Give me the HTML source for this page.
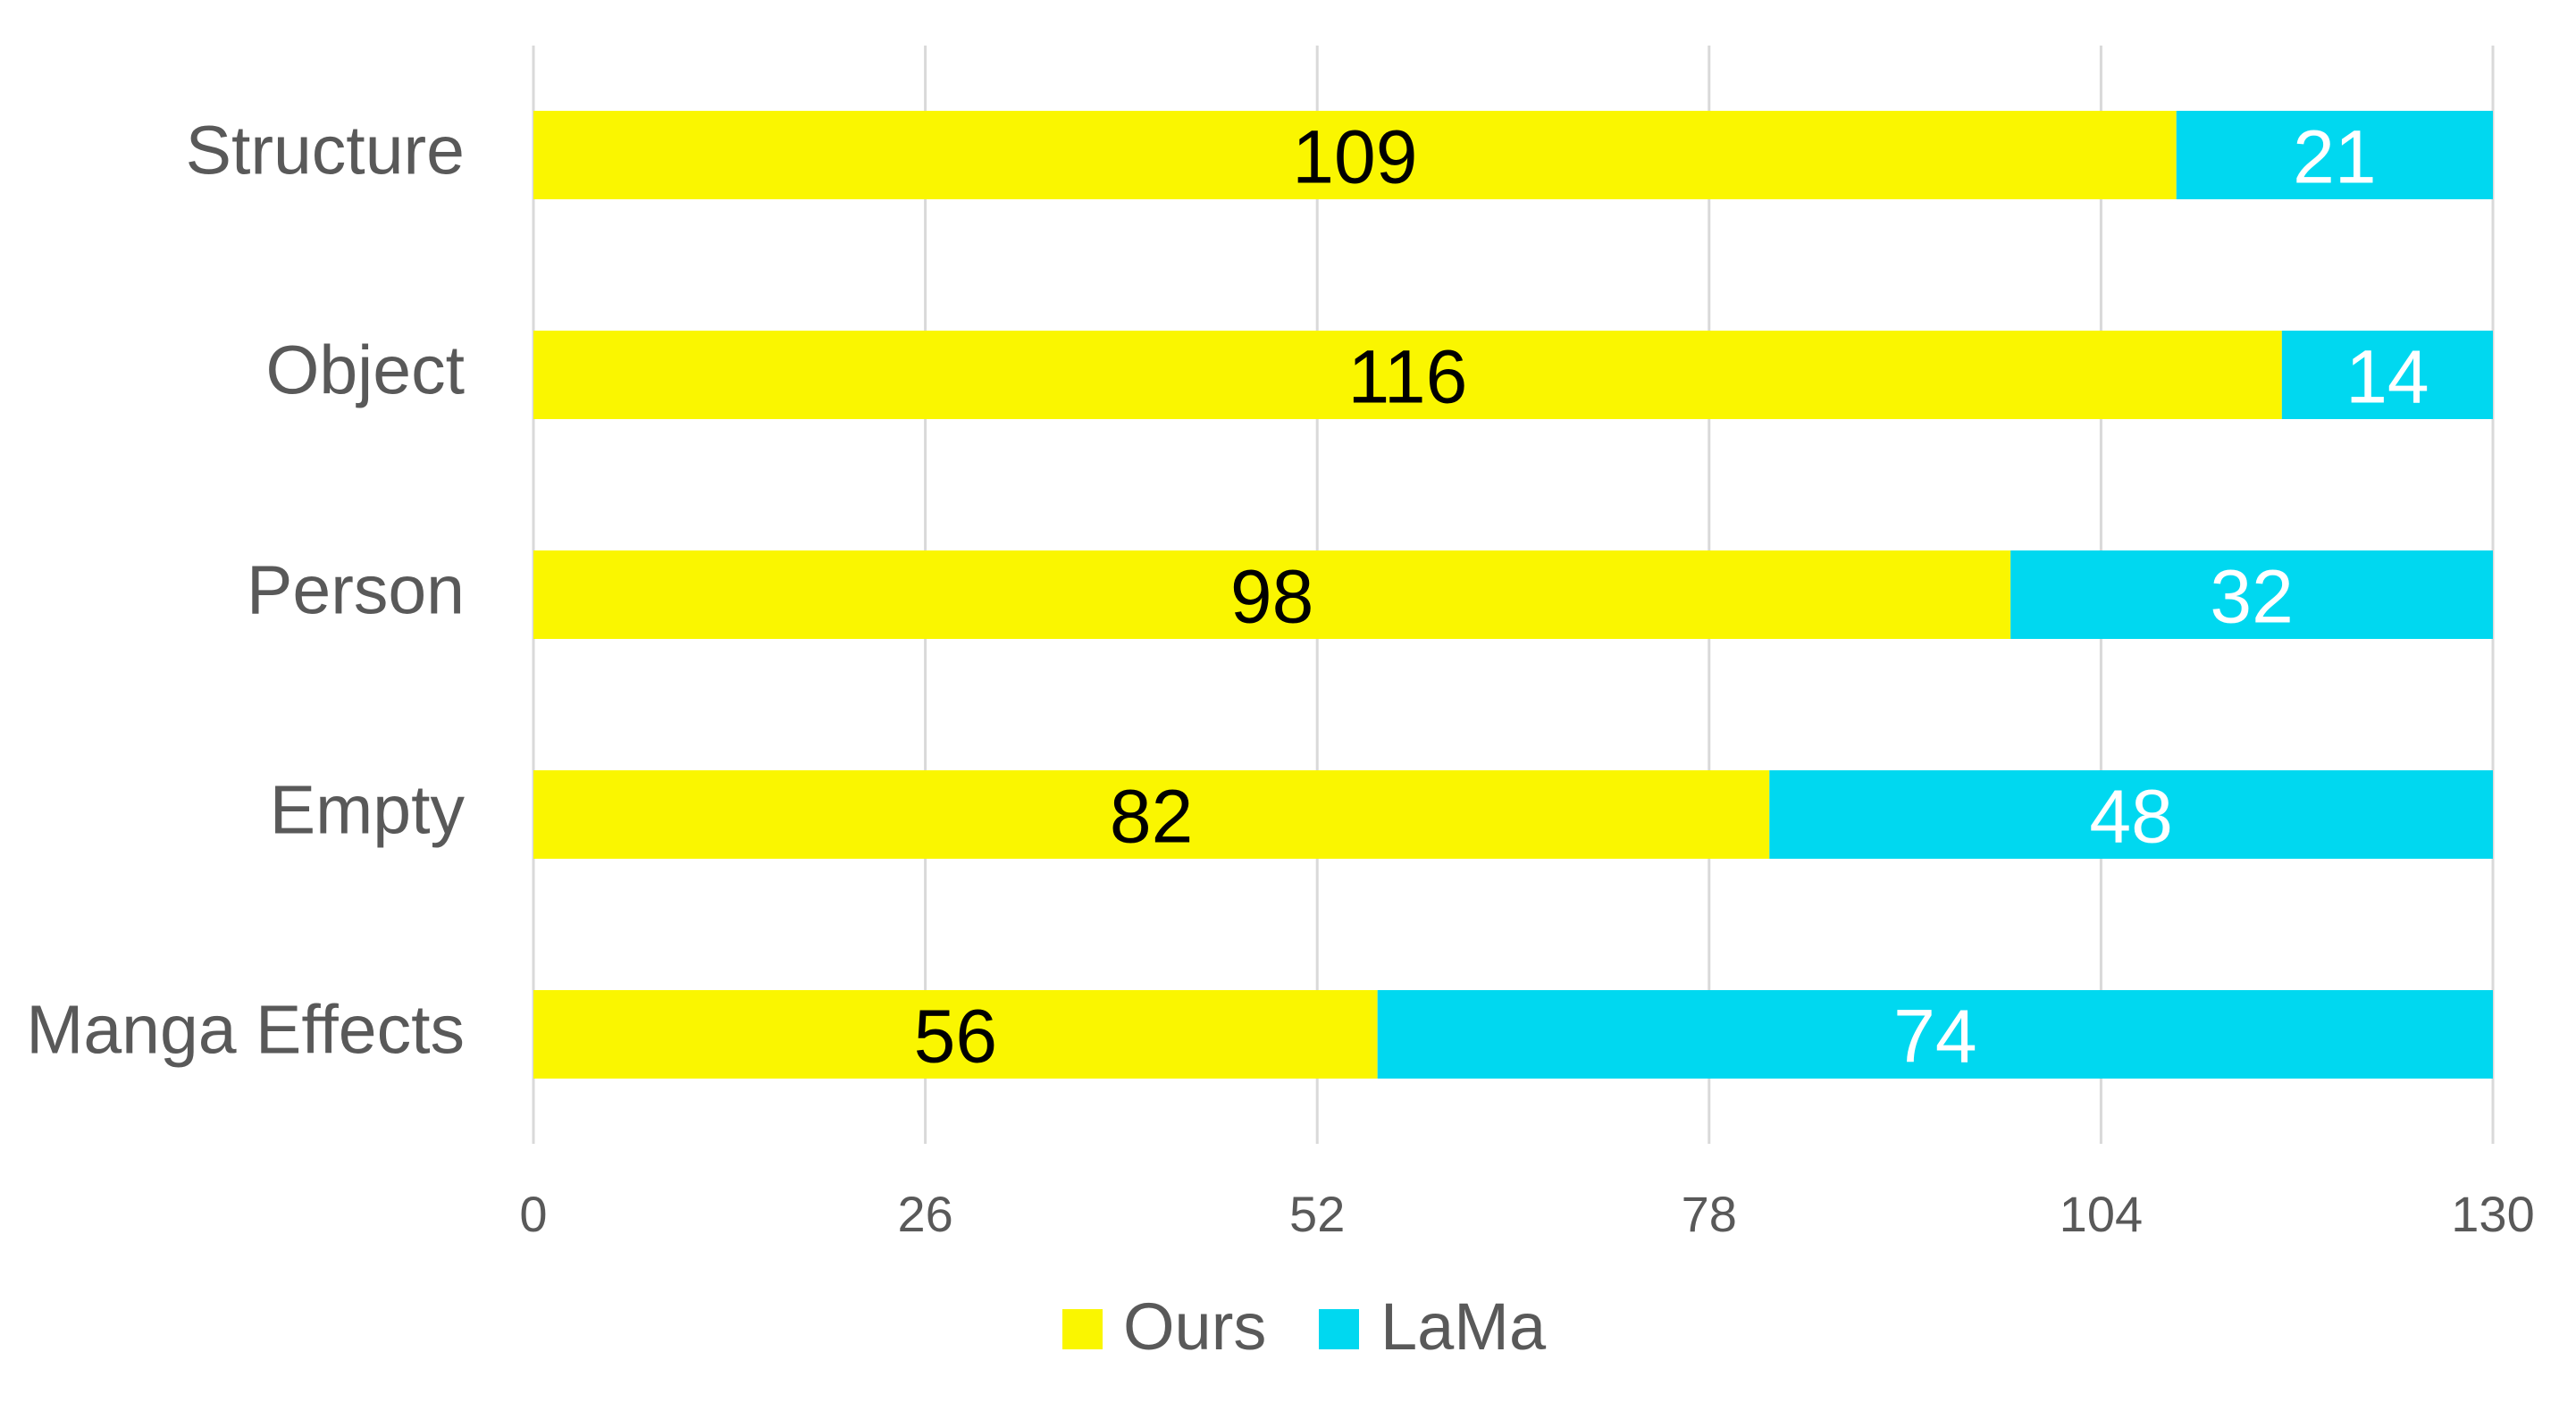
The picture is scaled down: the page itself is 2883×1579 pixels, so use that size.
<!DOCTYPE html>
<html><head><meta charset="utf-8"><style>
html,body{margin:0;padding:0;background:#fff;}
svg{display:block;font-family:"Liberation Sans",sans-serif;}
</style></head><body>
<svg id="chart" width="2883" height="1579" viewBox="0 0 2883 1579">
<g id="grid"></g>
<g id="bars"></g>
<g id="ylabels"></g>
<g id="xlabels"></g>
<g>
  <rect x="1189" y="1465" width="45" height="45" fill="#FAF600"/>
  <text x="1257" y="1510" font-size="74" fill="#595959">Ours</text>
  <rect x="1476" y="1465" width="45" height="45" fill="#00D8F0"/>
  <text x="1545" y="1510" font-size="74" fill="#595959">LaMa</text>
</g>
</svg>
<script>
const categories = ["Structure","Object","Person","Empty","Manga Effects"];
const oursValues = [109,116,98,82,56];
const lamaValues = [21,14,32,48,74];
const tickValues = [0,26,52,78,104,130];
const NS="http://www.w3.org/2000/svg";
const X0=597, X1=2790, XMAX=130;
const xScale=v=>X0+(X1-X0)*v/XMAX;
const BAND0=124, BANDSTEP=246, BARH=99;
const yScale=i=>BAND0+i*BANDSTEP;
function mk(tag,attrs,parent){const e=document.createElementNS(NS,tag);for(const k in attrs)e.setAttribute(k,attrs[k]);parent.appendChild(e);return e;}
const grid=document.getElementById('grid'),bars=document.getElementById('bars'),yl=document.getElementById('ylabels'),xl=document.getElementById('xlabels');
tickValues.forEach(t=>{
  const x=xScale(t);
  const l=mk('line',{x1:x,x2:x,y1:51,y2:1280,stroke:'#d9d9d9','stroke-width':3},grid);
  
  
  const tx=mk('text',{x:x,y:1378,'font-size':56,fill:'#595959','text-anchor':'middle'},xl);
  tx.textContent=t;
  
  
});
categories.forEach((c,i)=>{
  const y=yScale(i);
  const a=oursValues[i], b=lamaValues[i];
  const r1=mk('rect',{x:xScale(0),y:y,width:xScale(a)-xScale(0),height:BARH,fill:'#FAF600'},bars);
  
  
  const r2=mk('rect',{x:xScale(a),y:y,width:xScale(a+b)-xScale(a),height:BARH,fill:'#00D8F0'},bars);
  
  
  const t1=mk('text',{x:(xScale(0)+xScale(a))/2,y:y+BARH/2+31,'font-size':84,fill:'#000','text-anchor':'middle'},bars);
  t1.textContent=a;
  
  
  const t2=mk('text',{x:(xScale(a)+xScale(a+b))/2,y:y+BARH/2+31,'font-size':84,fill:'#fff','text-anchor':'middle'},bars);
  t2.textContent=b;
  
  
  const cl=mk('text',{x:520,y:y+BARH/2+21,'font-size':77,fill:'#595959','text-anchor':'end'},yl);
  cl.textContent=c;
  
  
});
</script>
</body></html>
